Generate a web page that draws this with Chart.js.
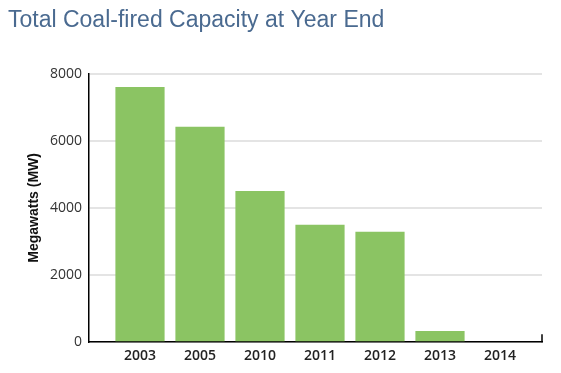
<!DOCTYPE html>
<html>
<head>
<meta charset="utf-8">
<script src="https://cdn.jsdelivr.net/npm/chart.js@4/dist/chart.umd.min.js"></script>
<style>
html,body{margin:0;padding:0;background:#fff;}
#wrap{width:561px;height:373px;position:relative;}
</style>
</head>
<body>
<div id="wrap"><canvas id="c"></canvas></div>
<script>
const categories = ['2003', '2005', '2010', '2011', '2012', '2013', '2014'];
const capacityMW = [7600, 6420, 4500, 3500, 3290, 330, 0];
const yTicks = [0, 2000, 4000, 6000, 8000];

const points = categories.map((c, i) => ({ x: i, y: capacityMW[i] }));

const endTick = {
  id: 'endTick',
  afterDraw(chart) {
    const { ctx, chartArea } = chart;
    ctx.save();
    ctx.strokeStyle = '#000';
    ctx.lineWidth = 1.5;
    ctx.beginPath();
    ctx.moveTo(chartArea.right, chartArea.bottom);
    ctx.lineTo(chartArea.right, chartArea.bottom - 8);
    ctx.stroke();
    ctx.restore();
  }
};

new Chart(document.getElementById('c'), {
  type: 'bar',
  data: {
    datasets: [{
      data: points,
      backgroundColor: '#8bc463',
      borderWidth: 0,
      barPercentage: 0.82,
      categoryPercentage: 1
    }]
  },
  options: {
    responsive: true,
    maintainAspectRatio: false,
    animation: false,
    devicePixelRatio: 1,
    layout: { padding: { left: 8, right: 19, top: 0, bottom: 4 } },
    plugins: {
      legend: { display: false },
      tooltip: { enabled: false },
      title: {
        display: true,
        text: 'Total Coal-fired Capacity at Year End',
        align: 'start',
        color: '#4a6a90',
        font: { family: '"Liberation Sans", Arial, sans-serif', size: 23, weight: 'normal', lineHeight: 1.2 },
        padding: { top: 7, bottom: 39 }
      }
    },
    scales: {
      x: {
        type: 'linear',
        offset: false,
        min: -0.85,
        max: 6.70,
        afterBuildTicks(scale) {
          scale.ticks = categories.map((c, i) => ({ value: i }));
        },
        ticks: {
          callback: (v) => categories[v] ?? '',
          color: '#222',
          font: { family: '"Open Sans", sans-serif', size: 14, weight: '600' },
          padding: 5,
          maxRotation: 0,
          autoSkip: false
        },
        grid: { display: false, drawTicks: false },
        border: { display: true, color: '#000', width: 1.5 }
      },
      y: {
        min: 0,
        max: 8000,
        afterBuildTicks(scale) {
          scale.ticks = yTicks.map(v => ({ value: v }));
        },
        afterFit(scale) { scale.width = 81; },
        ticks: {
          callback: (v) => String(v),
          color: '#333',
          font: { family: '"Open Sans", sans-serif', size: 14 },
          padding: 7
        },
        grid: { color: '#e4e4e4', lineWidth: 2, drawTicks: false },
        border: { display: true, color: '#000', width: 1.5 },
        title: {
          display: true,
          text: 'Megawatts (MW)',
          color: '#111',
          font: { family: '"Liberation Sans", Arial, sans-serif', size: 14, weight: 'bold' },
          padding: { top: 18, bottom: 0 }
        }
      }
    }
  },
  plugins: [endTick]
});
</script>
</body>
</html>
